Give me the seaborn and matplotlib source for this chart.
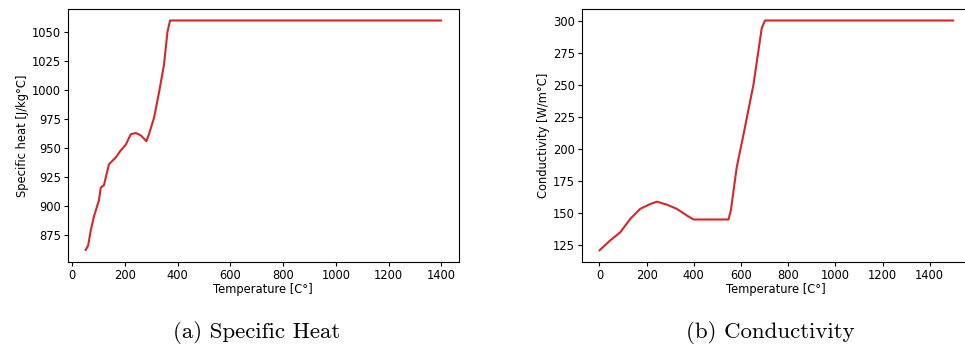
import numpy as np
import seaborn as sns
import matplotlib.pyplot as plt

sns.set_style("ticks")
plt.rcParams['font.family'] = ['DejaVu Sans']
plt.rcParams['text.color'] = 'black'
plt.rcParams['axes.labelcolor'] = 'black'
plt.rcParams['xtick.color'] = 'black'
plt.rcParams['ytick.color'] = 'black'
plt.rcParams['axes.edgecolor'] = 'black'

# Specific heat vs temperature
temp_cp = [50, 60, 70, 82, 101, 108, 120, 139, 165, 184, 203, 222, 241, 260, 281,
           291, 310, 330, 348, 361, 371, 1400]
cp = [862, 866, 879, 891, 905, 916, 918, 936, 942, 948, 953, 962, 963, 961, 956,
      962, 976, 999, 1022, 1050, 1060, 1060]

# Conductivity vs temperature
temp_k = [0, 46, 89, 131, 173, 216, 244, 286, 328, 371, 399, 547, 557, 582, 611,
          653, 688, 702, 1500]
cond = [120.5, 128.4, 134.8, 145.2, 153, 156.8, 158.6, 156.3, 153, 147.8, 144.7,
        144.7, 151.6, 185.3, 211.2, 250, 294, 300, 300]

W, H = 965, 348
fig = plt.figure(figsize=(W / 100, H / 100), dpi=100)
ax1 = fig.add_axes([67.7 / W, (H - 261.7) / H, (459 - 67.7) / W, (261.7 - 9) / H])
ax2 = fig.add_axes([581.7 / W, (H - 262) / H, (971 - 581.7) / W, (262 - 9) / H])

red = '#d62728'
sns.lineplot(x=temp_cp, y=cp, ax=ax1, color=red, lw=1.5)
sns.lineplot(x=temp_k, y=cond, ax=ax2, color=red, lw=1.5)

ax1.set_xticks([0, 200, 400, 600, 800, 1000, 1200, 1400])
ax1.set_yticks([875, 900, 925, 950, 975, 1000, 1025, 1050])
ax2.set_xticks([0, 200, 400, 600, 800, 1000, 1200, 1400])
ax2.set_yticks([125, 150, 175, 200, 225, 250, 275, 300])

ax1.set_ylabel('Specific heat [J/kg°C]', fontsize=8.3, labelpad=2)
ax2.set_ylabel('Conductivity [W/m°C]', fontsize=8.3, labelpad=2)
for ax in (ax1, ax2):
    ax.set_xlabel('Temperature [C°]', fontsize=8.3, labelpad=1)
    ax.tick_params(labelsize=8.3, length=3, pad=2)
    for s in ax.spines.values():
        s.set_visible(True)
        s.set_linewidth(0.8)

fig.text(256.5 / W, 1 - 332 / H, '(a) Specific Heat', family='cmr10',
         fontsize=16.5, ha='center', va='center')
fig.text(770.5 / W, 1 - 332 / H, '(b) Conductivity', family='cmr10',
         fontsize=16.5, ha='center', va='center')

fig.savefig('out.png', dpi=100)
